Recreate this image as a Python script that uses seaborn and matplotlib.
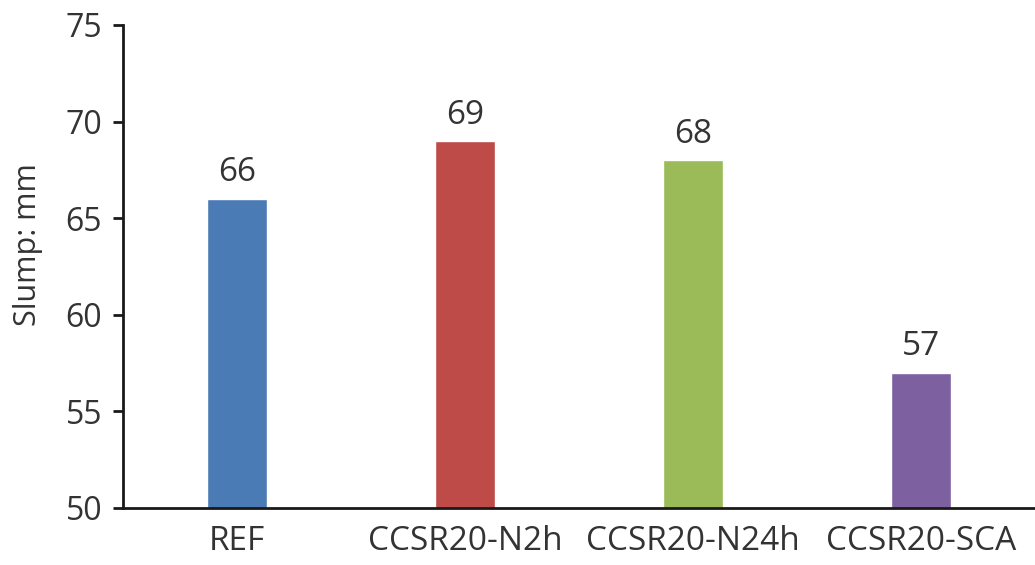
import matplotlib
matplotlib.use("Agg")
import pandas as pd
import seaborn as sns
import matplotlib.pyplot as plt

categories = ["REF", "CCSR20-N2h", "CCSR20-N24h", "CCSR20-SCA"]
slump = [66, 69, 68, 57]
colors = ["#4A7BB4", "#BE4B48", "#9BBB59", "#7D60A0"]

df = pd.DataFrame({"mix": categories, "slump": slump})

sns.set_style("white")
plt.rcParams["font.family"] = ["Open Sans", "DejaVu Sans"]

fig = plt.figure(figsize=(10.35, 5.65), dpi=100)
ax = fig.add_axes([0.1188, 0.1009, 0.8812, 0.8549])

sns.barplot(data=df, x="mix", y="slump", hue="mix", palette=colors,
            width=0.26, legend=False, ax=ax, saturation=1)

ax.set_ylim(50, 75)
ax.set_xlim(-0.5, 3.5)
ax.set_yticks([50, 55, 60, 65, 70, 75])

# value labels above bars
for i, v in enumerate(slump):
    ax.text(i, v + 0.9, str(v), ha="center", va="baseline", fontsize=24, color="#333333")

ax.set_xlabel("")
ax.set_ylabel("Slump: mm", fontsize=22, color="#333333")
ax.yaxis.set_label_coords(-0.088, 0.545)

for s in ["top", "right"]:
    ax.spines[s].set_visible(False)
for s in ["left", "bottom"]:
    ax.spines[s].set_color("#1a1a1a")
    ax.spines[s].set_linewidth(2)

ax.tick_params(axis="y", direction="out", length=7, width=2, color="#1a1a1a",
               labelsize=23, labelcolor="#333333", pad=8, left=True)
ax.tick_params(axis="x", length=0, labelsize=24, labelcolor="#333333", pad=12)

plt.savefig("out.png", dpi=100)
